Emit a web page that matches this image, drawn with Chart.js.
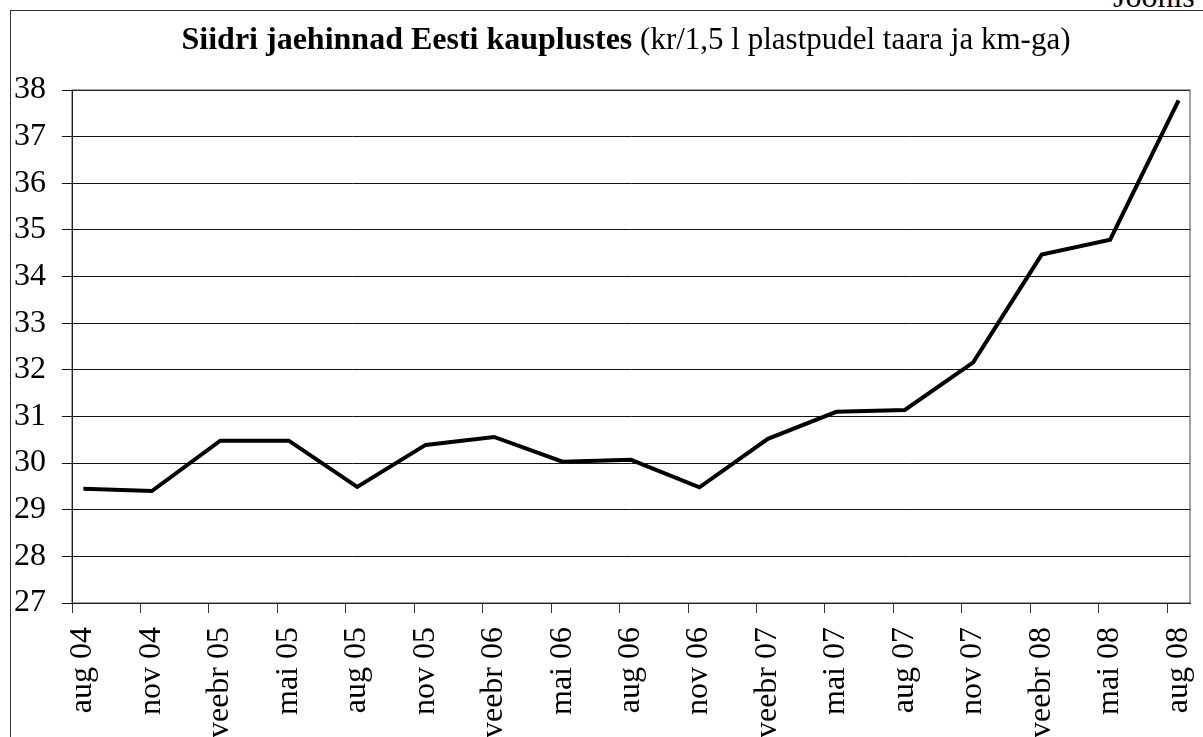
<!DOCTYPE html>
<html>
<head>
<meta charset="utf-8">
<title>Siidri jaehinnad</title>
<script src="https://cdn.jsdelivr.net/npm/chart.js@4.4.0/dist/chart.umd.min.js"></script>
<style>
    html, body { margin: 0; padding: 0; background: #fff; overflow: hidden; width: 1203px; height: 737px; }
    #raam { position: absolute; left: 10px; top: 10px; width: 1300px; height: 900px;
            border-left: 1.5px solid #333; border-top: 1.5px solid #333; }
    #joonis { position: absolute; left: 1113px; top: -20px; font: 32px "Liberation Serif", serif;
              line-height: 32px; color: #000; }
    #graafik { position: absolute; left: 0; top: 0; }
</style>
</head>
<body>
<div id="raam"></div>
<div id="joonis">Joonis</div>
<canvas id="graafik" width="1203" height="760"></canvas>
<script>
// kvartalid (iga 3 kuu tagant)
var kuud = ['aug 04', 'nov 04', 'veebr 05', 'mai 05', 'aug 05', 'nov 05', 'veebr 06', 'mai 06', 'aug 06',
    'nov 06', 'veebr 07', 'mai 07', 'aug 07', 'nov 07', 'veebr 08', 'mai 08', 'aug 08'];
// siidri hind, kr/1,5 l
var hinnad = [29.45, 29.40, 30.48, 30.48, 29.49, 30.39, 30.56, 30.03, 30.07,
    29.48, 30.52, 31.10, 31.14, 32.16, 34.47, 34.79, 37.78];
var yTicks = [27, 28, 29, 30, 31, 32, 33, 34, 35, 36, 37, 38];

var pealkiri1 = 'Siidri jaehinnad Eesti kauplustes';
var pealkiri2 = '(kr/1,5 l plastpudel taara ja km-ga)';

var font = '"Liberation Serif", "Times New Roman", serif';

// andmed on kuu keskel, kuu indeks alates aug 04
var punktid = [];
for (var i = 0; i < hinnad.length; i++) {
    punktid.push({x: i * 3 + 0.5, y: hinnad[i]});
}

var pealkiriPlugin = {
    id: 'pealkiri',
    afterDraw: function (chart) {
        var ctx = chart.ctx;
        ctx.save();
        ctx.fillStyle = '#000';
        ctx.textBaseline = 'alphabetic';
        ctx.font = 'bold 32px ' + font;
        var w1 = ctx.measureText(pealkiri1).width;
        ctx.font = '31px ' + font;
        var tyhik = ctx.measureText(' ').width;
        var w2 = ctx.measureText(pealkiri2).width;
        var x = 626 - (w1 + tyhik + w2) / 2;
        ctx.font = 'bold 32px ' + font;
        ctx.fillText(pealkiri1, x, 49);
        ctx.font = '31px ' + font;
        ctx.fillText(pealkiri2, x + w1 + tyhik, 49);
        ctx.restore();
    }
};

var raamPlugin = {
    id: 'raam',
    beforeDatasetsDraw: function (chart) {
        var a = chart.chartArea;
        var ctx = chart.ctx;
        ctx.save();
        ctx.strokeStyle = '#444';
        ctx.lineWidth = 1;
        ctx.strokeRect(a.left, a.top, a.right - a.left, a.bottom - a.top);
        ctx.restore();
    }
};

var ctx = document.getElementById('graafik');
var chartGraph = new Chart(ctx, {
    type: 'line',
    data: {
        datasets: [{
            data: punktid,
            borderColor: '#000',
            borderWidth: 4,
            pointRadius: 0,
            tension: 0,
            fill: false
        }]
    },
    options: {
        responsive: false,
        animation: false,
        layout: {padding: {top: 90, left: 0, right: 13, bottom: 0}},
        plugins: {legend: {display: false}, tooltip: {enabled: false}},
        scales: {
            x: {
                type: 'linear',
                min: 0,
                max: 49,
                afterBuildTicks: function (scale) {
                    scale.ticks = kuud.map(function (k, j) { return {value: j * 3}; });
                },
                afterFit: function (scale) {
                    scale.height = 157;
                    scale.paddingLeft = 0;
                    scale.paddingRight = 0;
                },
                grid: {drawOnChartArea: false, drawTicks: true, tickLength: 10, color: '#333'},
                border: {color: '#000', width: 1},
                ticks: {
                    autoSkip: false,
                    minRotation: 90,
                    maxRotation: 90,
                    padding: 14,
                    labelOffset: 11,
                    color: '#000',
                    font: {family: font, size: 32},
                    callback: function (v) { return kuud[Math.round(v / 3)]; }
                }
            },
            y: {
                min: 27,
                max: 38,
                afterBuildTicks: function (scale) {
                    scale.ticks = yTicks.map(function (t) { return {value: t}; });
                },
                afterFit: function (scale) { scale.width = 72; },
                grid: {color: '#111', lineWidth: 1, tickLength: 10},
                border: {color: '#000', width: 1},
                ticks: {
                    padding: 16,
                    color: '#000',
                    font: {family: font, size: 32}
                }
            }
        }
    },
    plugins: [pealkiriPlugin, raamPlugin]
});
</script>
</body>
</html>
